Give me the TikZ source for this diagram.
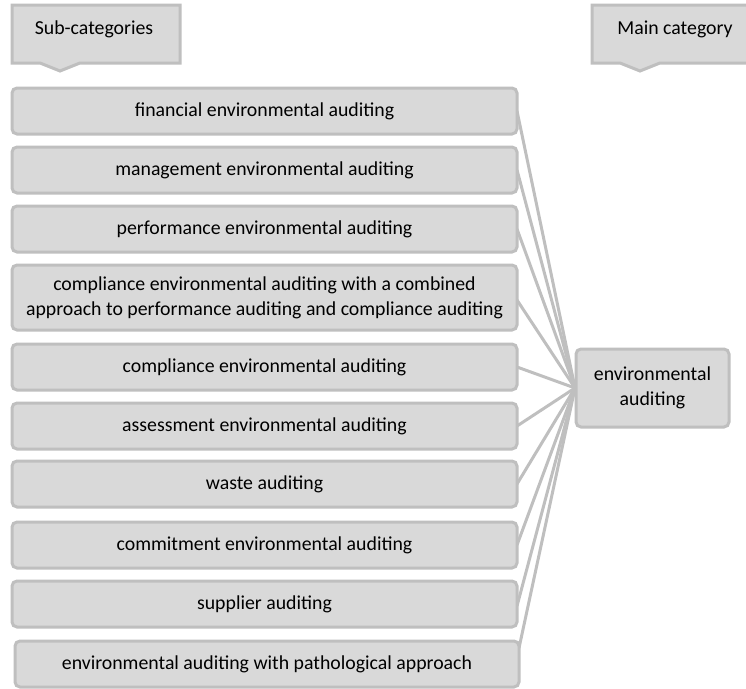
\documentclass[tikz,border=0pt]{standalone}
\usepackage{fontspec}
\setmainfont{Carlito}
\definecolor{boxfill}{HTML}{D9D9D9}
\definecolor{boxline}{HTML}{BFBFBF}
\definecolor{txt}{HTML}{000000}
\begin{document}
\begin{tikzpicture}[x=1pt,y=-1pt,
  sub/.style={draw=boxline, fill=boxfill, line width=3pt, rounded corners=5pt,
    minimum height=46pt, minimum width=505pt, inner sep=0pt, align=center,
    text=txt, font=\fontsize{19.8}{25}\selectfont},
  hdr/.style={draw=boxline, fill=boxfill, line width=3pt},
  hdrtext/.style={text=txt, font=\fontsize{19.8}{25}\selectfont, inner sep=0pt},
  conn/.style={draw=boxline, line width=3pt}]
\useasboundingbox (0,0) rectangle (746,688);
\clip (0,0) rectangle (746,688);
% header callouts
\path[hdr] (12,5) -- (180,5) -- (180,63) -- (80,63) -- (60,71) -- (40,63) -- (12,63) -- cycle;
\node[hdrtext] (hsub) at (94,29) {Sub-categories};
\path[hdr] (592,5) -- (760,5) -- (760,63) -- (660,63) -- (640,71) -- (620,63) -- (592,63) -- cycle;
\node[hdrtext] (hmain) at (675,29) {Main category};
% connectors (drawn first)
\coordinate (mw) at (575,388);
\coordinate (c1) at (517,111);
\coordinate (c2) at (517,170);
\coordinate (c3) at (517,229);
\coordinate (c4) at (517,300);
\coordinate (c5) at (517,367);
\coordinate (c6) at (517,426);
\coordinate (c7) at (517,484);
\coordinate (c8) at (517,545);
\coordinate (c9) at (517,606);
\coordinate (c10) at (519,648);
\foreach \i in {1,...,10} \draw[conn] (c\i) -- (mw);
% sub-category boxes
\node[sub] (b1) at (264.5,111) {financial environmental auditing};
\node[sub] (b2) at (264.5,170) {management environmental auditing};
\node[sub] (b3) at (264.5,229) {performance environmental auditing};
\node[sub, minimum height=65pt] (b4) at (264.5,297.5) {compliance environmental auditing with a combined\\approach to performance auditing and compliance auditing};
\node[sub] (b5) at (264.5,367) {compliance environmental auditing};
\node[sub] (b6) at (264.5,426) {assessment environmental auditing};
\node[sub] (b7) at (264.5,484) {waste auditing};
\node[sub] (b8) at (264.5,545) {commitment environmental auditing};
\node[sub] (b9) at (264.5,604) {supplier auditing};
\node[sub, minimum width=504pt] (b10) at (267,664) {environmental auditing with pathological approach};
% main category box
\node[sub, minimum width=153pt, minimum height=78pt] (m) at (652.5,388) {environmental\\auditing};
\end{tikzpicture}
\end{document}
